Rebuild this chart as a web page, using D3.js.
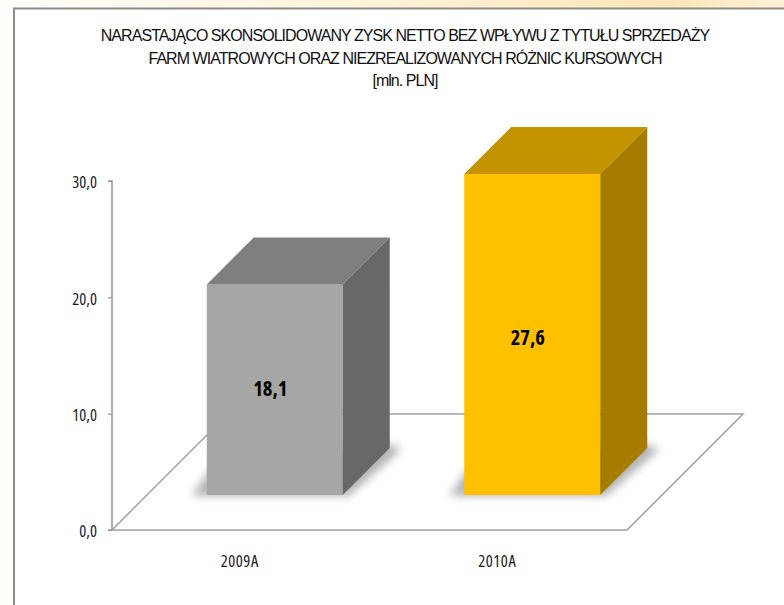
<!DOCTYPE html>
<html>
<head>
<meta charset="utf-8">
<script src="https://cdn.jsdelivr.net/npm/d3@7"></script>
<style>
body { margin: 0; background: #fff; }
svg { display: block; }
.title { font-family: "Liberation Sans", sans-serif; font-size: 16px; fill: #111; text-anchor: middle; letter-spacing: -0.95px; }
</style>
</head>
<body>
<svg id="chart" width="784" height="605"></svg>
<script>
var categories = ['2009A', '2010A'];
var values = [18.1, 27.6];
var valueLabels = ['18,1', '27,6'];
var yTicks = [0, 10, 20, 30];
var titleLines = [
    'NARASTAJĄCO SKONSOLIDOWANY ZYSK NETTO BEZ WPŁYWU Z TYTUŁU SPRZEDAŻY',
    'FARM WIATROWYCH ORAZ NIEZREALIZOWANYCH RÓŻNIC KURSOWYCH',
    '[mln. PLN]'
];
var frontColors = ['#a6a6a6', '#ffc000'];
var topColors = ['#7f7f7f', '#c49300'];
var sideColors = ['#686868', '#a67c00'];

var svg = d3.select('#chart');
var defs = svg.append('defs');

var grad = defs.append('linearGradient').attr('id', 'bandBg');
grad.append('stop').attr('offset', '0').attr('stop-color', '#fffdf9');
grad.append('stop').attr('offset', '0.45').attr('stop-color', '#fff4dc');
grad.append('stop').attr('offset', '0.85').attr('stop-color', '#fde5b8');
grad.append('stop').attr('offset', '1').attr('stop-color', '#fff0d6');

defs.append('filter').attr('id', 'blur')
    .attr('x', '-30%').attr('y', '-30%').attr('width', '160%').attr('height', '160%')
    .append('feGaussianBlur').attr('stdDeviation', 4.5);

// slide background and the content frame
svg.append('rect').attr('width', 784).attr('height', 8).attr('fill', 'url(#bandBg)');
svg.append('rect').attr('y', 8).attr('width', 13).attr('height', 597).attr('fill', '#fffefb');
svg.append('path').attr('d', 'M14,605V8.5H784').attr('fill', 'none').attr('stroke', '#8c8c8c').attr('stroke-width', 2);

svg.selectAll('.title').data(titleLines).enter().append('text')
    .attr('class', 'title')
    .attr('x', 405)
    .attr('y', function(d, i) { return 41 + i * 22.5; })
    .text(function(d) { return d; });

var y = d3.scaleLinear().domain([0, 30]).range([530, 181]);
var x = d3.scaleBand().domain(categories).range([112, 627]);
var barW = 136;
var depth = 47;    // depth of one bar
var floorD = 116;  // depth of the floor
var inset = 35;    // how far the bar stands back from the front of the floor

var axisG = svg.append('g').attr('transform', 'translate(112,0)')
    .call(d3.axisLeft(y).tickValues(yTicks).tickSize(4).tickPadding(11)
        .tickFormat(function(d) { return d3.format('.1f')(d).replace('.', ','); }));
axisG.select('.domain').attr('stroke', '#969696').attr('stroke-width', 1.5).attr('d', 'M-4,181H0V530H-4');
axisG.selectAll('line').attr('stroke', '#969696').attr('stroke-width', 1.2);
axisG.selectAll('text').style('font-family', '"Open Sans", sans-serif')
    .style('font-size', '16.5px').style('font-stretch', '75%').attr('fill', '#1a1a1a').attr('dy', '0.42em');

// floor
var x0 = x.range()[0], x1 = x.range()[1], yb = y(0);
svg.append('path')
    .attr('d', 'M' + x0 + ',' + yb + 'L' + x1 + ',' + yb + 'L' + (x1 + floorD) + ',' + (yb - floorD) + 'L' + (x0 + floorD) + ',' + (yb - floorD) + 'Z')
    .attr('fill', '#fff').attr('stroke', '#a0a0a0').attr('stroke-width', 1.5);

var bars = svg.selectAll('.bar').data(values).enter().append('g').attr('class', 'bar');

function fx(i) { return x(categories[i]) + x.bandwidth() / 2 + inset - 1 - barW / 2; }
function barBase() { return y(0) - inset; }
function barTop(d) { return barBase() - (y(0) - y(d)); }

// soft shadow on the floor
bars.append('path')
    .attr('filter', 'url(#blur)')
    .attr('fill', '#8a8a8a').attr('opacity', 0.65)
    .attr('d', function(d, i) {
        var l = fx(i) - 15, r = fx(i) + barW, b = barBase() + 1;
        return 'M' + l + ',' + b + 'L' + (r + 6) + ',' + b + 'L' + (r + depth + 12) + ',' + (b - depth) + 'L' + (r + depth - 6) + ',' + (b - depth - 6) + 'L' + (l + 18) + ',' + (b - 26) + 'Z';
    });

bars.append('rect')
    .attr('x', function(d, i) { return fx(i); })
    .attr('y', function(d) { return barTop(d); })
    .attr('width', barW)
    .attr('height', function(d) { return barBase() - barTop(d); })
    .attr('fill', function(d, i) { return frontColors[i]; });

bars.append('path')
    .attr('fill', function(d, i) { return topColors[i]; })
    .attr('d', function(d, i) {
        var l = fx(i), t = barTop(d);
        return 'M' + l + ',' + t + 'l' + depth + ',' + (-depth) + 'h' + barW + 'l' + (-depth) + ',' + depth + 'Z';
    });

bars.append('path')
    .attr('fill', function(d, i) { return sideColors[i]; })
    .attr('d', function(d, i) {
        var r = fx(i) + barW, t = barTop(d);
        return 'M' + r + ',' + t + 'l' + depth + ',' + (-depth) + 'V' + (barBase() - depth) + 'L' + r + ',' + barBase() + 'Z';
    });

bars.append('text')
    .attr('x', function(d, i) { return fx(i) + barW / 2 - 4.5; })
    .attr('y', function(d, i) { return (barTop(d) + barBase()) / 2 + (i ? 11 : 6); })
    .attr('text-anchor', 'middle')
    .style('font-family', '"Open Sans", sans-serif').style('font-size', '20.5px').style('font-weight', 700).style('font-stretch', '75%')
    .attr('fill', '#000')
    .text(function(d, i) { return valueLabels[i]; });

svg.selectAll('.cat').data(categories).enter().append('text')
    .attr('class', 'cat')
    .attr('x', function(d) { return x(d) + x.bandwidth() / 2 - 1; })
    .attr('y', 567)
    .attr('text-anchor', 'middle')
    .style('font-family', '"Open Sans", sans-serif').style('font-size', '16.5px').style('font-stretch', '75%').style('letter-spacing', '0.5px')
    .attr('fill', '#1a1a1a')
    .text(function(d) { return d; });
</script>
</body>
</html>
